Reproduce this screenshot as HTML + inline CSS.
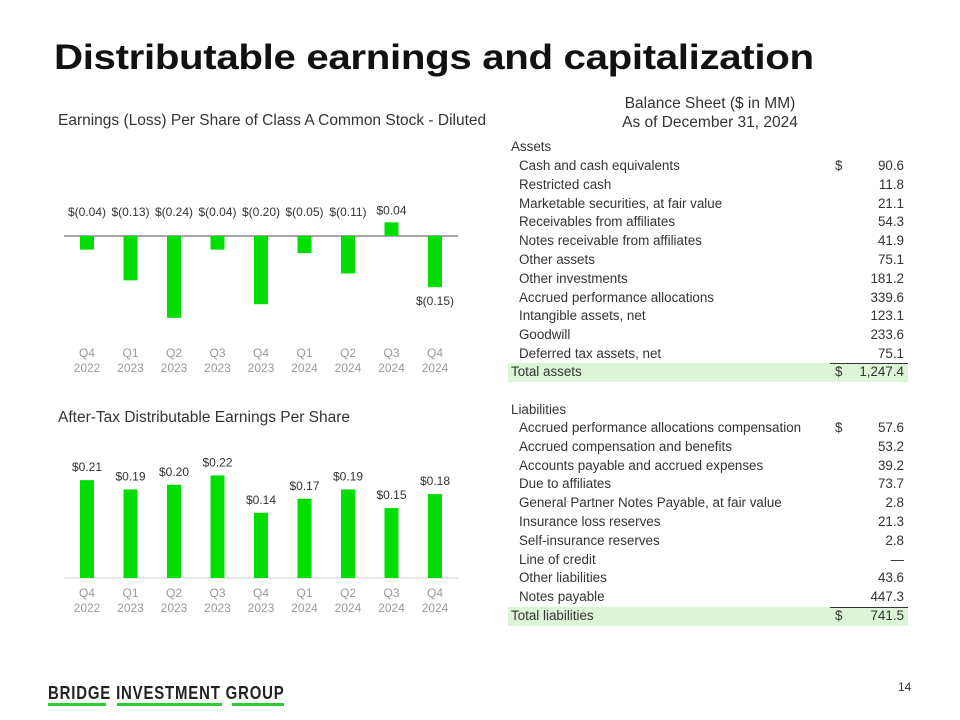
<!DOCTYPE html>
<html><head><meta charset="utf-8"><style>
body{margin:0;width:960px;height:720px;background:#fff;font-family:"Liberation Sans",sans-serif;position:relative;overflow:hidden;color:#222}
.t{position:absolute;white-space:nowrap}
#title{left:54px;top:38px;font-size:35px;font-weight:bold;color:#111;letter-spacing:-0.3px;transform:scaleX(1.15);transform-origin:left top}
.sub{font-size:15.5px;color:#333}
.row{position:absolute;left:508px;width:400px;height:19px;font-size:13.4px;color:#333}
.row .l{position:absolute;left:11px;top:1px}
.row .d{position:absolute;left:327px;top:1px}
.row .v{position:absolute;right:4px;top:1px}
.hl{background:#dcf5d6}
.hl .l{left:3px}
.hd .l{left:3px}
#logo{left:48px;top:683px;font-size:18px;font-weight:bold;letter-spacing:1px;color:#222;transform:scaleX(0.83);transform-origin:left top}
.u{position:absolute;height:3px;background:#2ecc2e;top:703px}
</style></head><body>
<div class="t" id="title">Distributable earnings and capitalization</div>
<div class="t sub" style="left:58px;top:112px">Earnings (Loss) Per Share of Class A Common Stock - Diluted</div>
<div class="t sub" style="left:58px;top:409px">After-Tax Distributable Earnings Per Share</div>
<div class="t sub" style="left:600px;top:94px;text-align:center;width:220px;line-height:19px">Balance Sheet ($ in MM)<br>As of December 31, 2024</div>
<svg id="charts" width="960" height="720" style="position:absolute;left:0;top:0"></svg>
<div id="table"></div>
<div class="t" id="logo">BRIDGE INVESTMENT GROUP</div>
<div class="u" style="left:48px;width:58px"></div><div class="u" style="left:117px;width:105px"></div><div class="u" style="left:232px;width:52px"></div>
<div class="t" style="left:898px;top:680px;font-size:12px;color:#333">14</div>
<script>
const quarters=["Q4","Q1","Q2","Q3","Q4","Q1","Q2","Q3","Q4"];
const years=["2022","2023","2023","2023","2023","2024","2024","2024","2024"];
const epsValues=[-0.04,-0.13,-0.24,-0.04,-0.20,-0.05,-0.11,0.04,-0.15];
const epsLabels=["$(0.04)","$(0.13)","$(0.24)","$(0.04)","$(0.20)","$(0.05)","$(0.11)","$0.04","$(0.15)"];
const deValues=[0.21,0.19,0.20,0.22,0.14,0.17,0.19,0.15,0.18];
const deLabels=["$0.21","$0.19","$0.20","$0.22","$0.14","$0.17","$0.19","$0.15","$0.18"];
const NS="http://www.w3.org/2000/svg";
const svg=document.getElementById('charts');
function mk(tag,attrs,txt){const e=document.createElementNS(NS,tag);for(const k in attrs)e.setAttribute(k,attrs[k]);if(txt!=null)e.textContent=txt;svg.appendChild(e);return e;}
const xc=i=>87+i*43.5;
const y1=v=>236-v*341;
const y2=v=>578-v*466;
// chart 1
let ax=mk('line',{x1:64,x2:458,y1:236,y2:236,stroke:'#888','stroke-width':1.5});

epsValues.forEach((v,i)=>{
  const r=mk('rect',{x:xc(i)-7,width:14,y:Math.min(y1(v),y1(0)),height:Math.abs(y1(v)-y1(0)),fill:'#00dd00'});
  
  const last=i===epsValues.length-1;
  const ty=last?y1(v)+18:(v>0?y1(v)-8:216);
  const t=mk('text',{x:xc(i),y:ty,'text-anchor':'middle','font-size':12,fill:'#333'},epsLabels[i]);
  
  const q=mk('text',{x:xc(i),y:357,'text-anchor':'middle','font-size':12,fill:'#999'},quarters[i]);
  
  const yy=mk('text',{x:xc(i),y:372,'text-anchor':'middle','font-size':12,fill:'#999'},years[i]);
  
});
// chart 2
let ax2=mk('line',{x1:64,x2:458,y1:578,y2:578,stroke:'#ccc','stroke-width':1});

deValues.forEach((v,i)=>{
  const r=mk('rect',{x:xc(i)-7,width:14,y:y2(v),height:y2(0)-y2(v),fill:'#00dd00'});
  
  const t=mk('text',{x:xc(i),y:y2(v)-9,'text-anchor':'middle','font-size':12,fill:'#333'},deLabels[i]);
  
  const q=mk('text',{x:xc(i),y:597,'text-anchor':'middle','font-size':12,fill:'#999'},quarters[i]);
  
  const yy=mk('text',{x:xc(i),y:612,'text-anchor':'middle','font-size':12,fill:'#999'},years[i]);
  
});
// table
const assetLabels=["Cash and cash equivalents","Restricted cash","Marketable securities, at fair value","Receivables from affiliates","Notes receivable from affiliates","Other assets","Other investments","Accrued performance allocations","Intangible assets, net","Goodwill","Deferred tax assets, net"];
const assetValues=["90.6","11.8","21.1","54.3","41.9","75.1","181.2","339.6","123.1","233.6","75.1"];
const liabLabels=["Accrued performance allocations compensation","Accrued compensation and benefits","Accounts payable and accrued expenses","Due to affiliates","General Partner Notes Payable, at fair value","Insurance loss reserves","Self-insurance reserves","Line of credit","Other liabilities","Notes payable"];
const liabValues=["57.6","53.2","39.2","73.7","2.8","21.3","2.8","—","43.6","447.3"];
const tb=document.getElementById('table');
function row(top,l,v,cls,d){const r=document.createElement('div');r.className='row '+(cls||'');r.style.top=top+'px';
r.innerHTML='<span class="l">'+l+'</span>'+(d?'<span class="d">$</span>':'')+'<span class="v">'+v+'</span>';tb.appendChild(r);return r;}
let h=row(138,'Assets','', 'hd');
assetLabels.forEach((l,i)=>{const r=row(157+i*18.8,l,assetValues[i],'',i===0);});
let ta=row(363,'Total assets','1,247.4','hl',true);
let u1=document.createElement('div');u1.style.cssText='position:absolute;left:830px;width:78px;top:363px;border-top:1.5px solid #333';tb.appendChild(u1);
h=row(401,'Liabilities','','hd');
liabLabels.forEach((l,i)=>{const r=row(419+i*18.8,l,liabValues[i],'',i===0);});
let tl=row(607,'Total liabilities','741.5','hl',true);
let u2=document.createElement('div');u2.style.cssText='position:absolute;left:830px;width:78px;top:607px;border-top:1.5px solid #333';tb.appendChild(u2);
</script>
</body></html>
